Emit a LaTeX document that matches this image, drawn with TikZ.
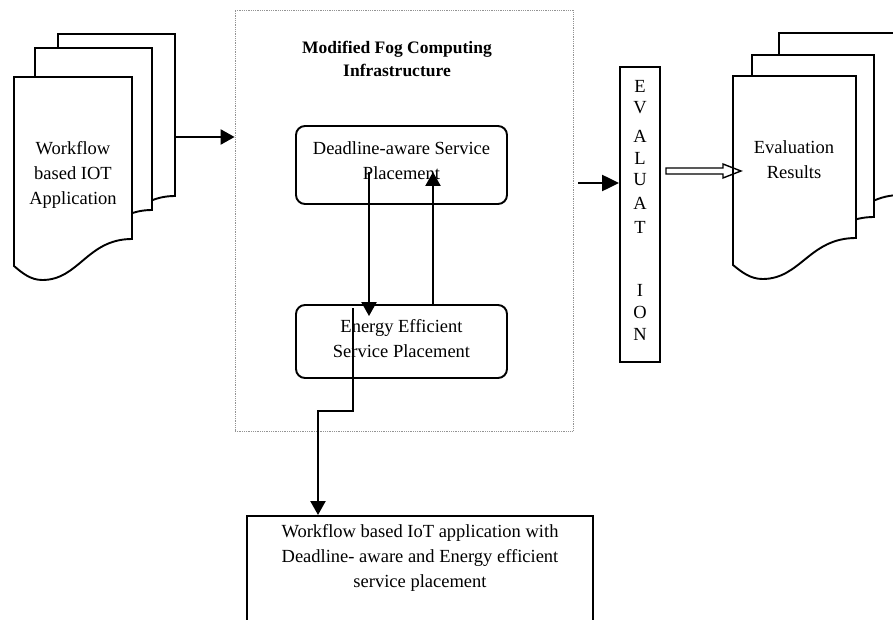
\documentclass[tikz,border=0pt]{standalone}
\usepackage{fontspec}
\setmainfont{Liberation Serif}
\usetikzlibrary{arrows.meta,calc}

% one page of a stacked-document symbol: top-left corner (#1,#2), width #3
\newcommand\docpage[3]{%
  \begin{scope}[shift={(#1,#2)}]
    \filldraw[docline] (0,0) -- (#3,0) -- (#3,162)
      .. controls (0.62*#3,162) and (0.55*#3,203) .. (0.24*#3,203)
      .. controls (0.14*#3,203) and (0.07*#3,196) .. (0,189) -- cycle;
  \end{scope}}

\begin{document}
\begin{tikzpicture}[x=1pt,y=-1pt,
  docline/.style={draw=black, line width=1.9pt, fill=white},
  lbl/.style={align=center, inner sep=0pt, font=\fontsize{18.5}{25}\selectfont},
  titlelbl/.style={align=center, inner sep=0pt, font=\bfseries\fontsize{17.5}{23}\selectfont},
  fogbox/.style={draw=gray!85, densely dotted, line width=0.8pt, inner sep=0pt},
  placebox/.style={draw, line width=1.9pt, rounded corners=9pt, minimum width=211pt, inner sep=0pt},
  plainbox/.style={draw, line width=1.9pt, inner sep=0pt},
  flow/.style={line width=2.3pt, -{Triangle[length=14pt,width=15pt]}},
]
\useasboundingbox (0,0) rectangle (893,620);
\clip (0,0) rectangle (893,620);

% input documents
\docpage{58}{34}{117}
\docpage{35}{48}{117}
\docpage{14}{77}{118}
\node[lbl] (wf) at (73,175) {Workflow\\based IOT\\Application};
\coordinate (docout) at (175,137);

% fog computing infrastructure
\node[fogbox, minimum width=338pt, minimum height=421pt] (fog) at (404,220.5) {};
\node[titlelbl] (title) at (397,58.5) {Modified Fog Computing\\Infrastructure};
\node[placebox, minimum height=78pt] (dl) at (401.5,165) {};
\node[placebox, minimum height=73pt] (ee) at (401.5,341.5) {};
\node[lbl] (dltext) at (401.5,160.5) {Deadline-aware Service\\Placement};
\node[lbl] (eetext) at (401.5,339) {Energy Efficient\\Service Placement};

\draw[flow] (docout) -- (fog.west |- docout);

\coordinate (dlA) at (369,172);
\coordinate (dlB) at (433,172);
\draw[flow, shorten >=-12pt] (dlA) -- (dlA |- ee.north);
\draw[flow] (dlB |- ee.north) -- (dlB);

% output application
\node[plainbox, minimum width=346pt, minimum height=130pt, anchor=north] (out) at (420,515) {};
\node[lbl] (outtext) at (420,558) {Workflow based IoT application with\\Deadline- aware and Energy efficient\\service placement};
\coordinate (bendstart) at (353,308);
\coordinate (bendx) at (318,411);
\draw[flow] (bendstart) |- (bendx) -- (bendx |- out.north);

% evaluation
\node[plainbox, minimum width=40pt, minimum height=295pt] (eval) at (640,214.5) {};
\foreach \c/\yy in {E/86, V/108, A/136, L/158, U/180, A/203, T/227, I/290, O/312, N/334}
  \node[lbl] at (640,\yy) {\c};
\coordinate (fogout) at (578,183);
\draw[flow, -{Triangle[length=17pt,width=16pt]}] (fogout) -- (eval.west |- fogout);

% evaluation results
\docpage{779}{33}{122}
\docpage{752}{55}{122}
\docpage{733}{76}{123}
\node[lbl] (er) at (794,160) {Evaluation\\Results};

% hollow arrow into the results
\coordinate (hs) at ($(eval.east)+(5,-43.5)$);
\draw[line width=1.4pt, line join=miter]
  ($(hs)+(0,-3)$) -- ++(57,0) -- ++(0,-4) -- ($(hs)+(75,0)$)
  -- ($(hs)+(57,7)$) -- ++(0,-4) -- ($(hs)+(0,3)$) -- cycle;
\end{tikzpicture}
\end{document}
